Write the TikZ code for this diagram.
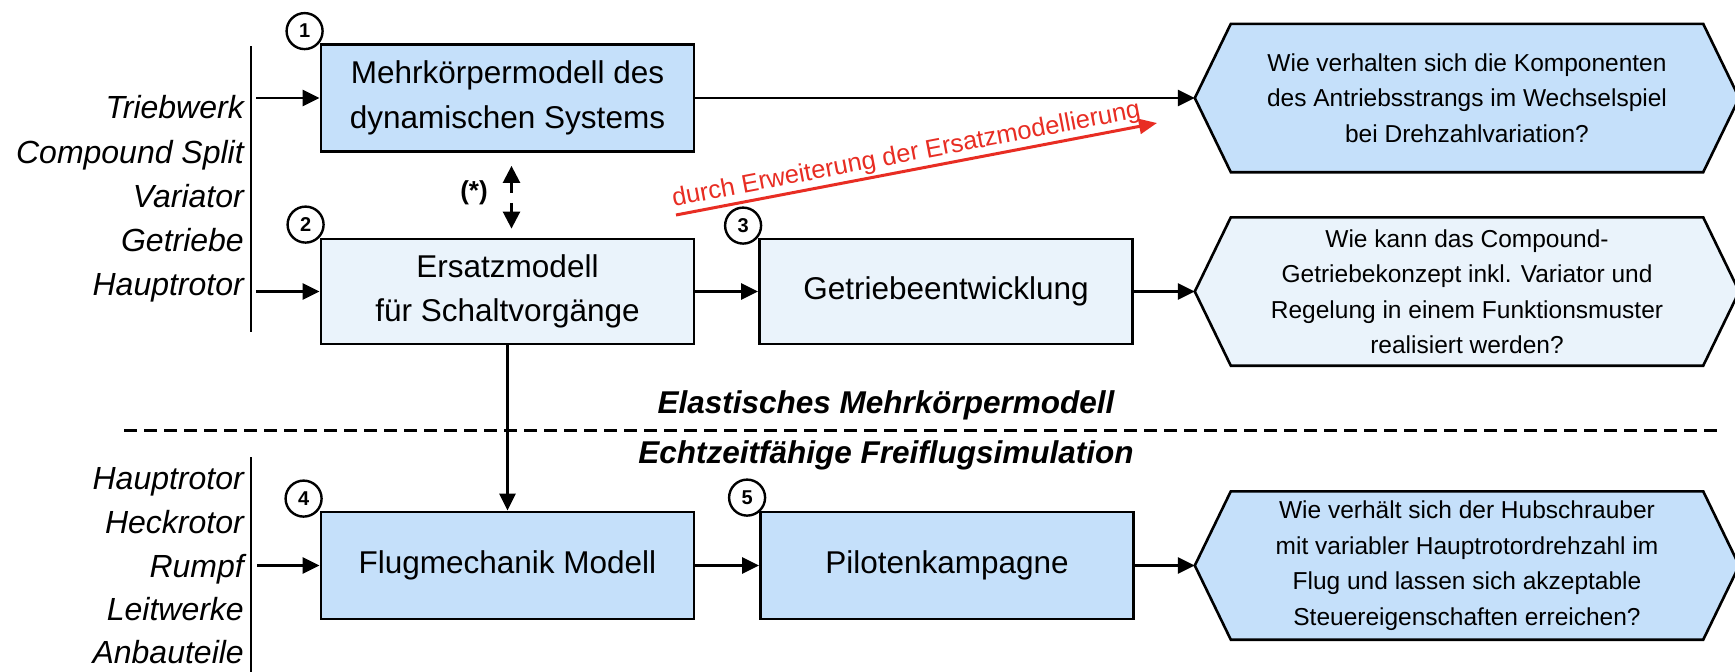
\documentclass[tikz,border=0pt]{standalone}
\usepackage{fontspec}
\setmainfont{Liberation Sans}
\usetikzlibrary{arrows.meta,calc}
\pgfdeclarelayer{background}
\pgfsetlayers{background,main}
\definecolor{bluedark}{RGB}{197,224,250}
\definecolor{bluelight}{RGB}{234,243,251}
\definecolor{redarr}{RGB}{232,45,35}
\begin{document}
\begin{tikzpicture}[x=1pt,y=-1pt,
  stepbox/.style={draw, line width=2.8pt, minimum width=373pt, minimum height=107pt,
    inner sep=0pt, align=center, font=\fontsize{31.5}{44.5}\selectfont},
  hexin/.style={minimum width=472pt, minimum height=148pt, inner sep=0pt, align=center,
    font=\fontsize{24.5}{35.5}\selectfont},
  hexshape/.style={line width=2.6pt, line join=miter, draw=black},
  num/.style={circle, draw, line width=2.4pt, fill=white, minimum size=36pt, inner sep=0pt,
    font=\bfseries\fontsize{20}{20}\selectfont},
  arr/.style={line width=2.6pt, -{Triangle[length=17pt,width=16pt]}},
  dbl/.style={line width=2.6pt, {Triangle[length=17pt,width=17pt]}-{Triangle[length=17pt,width=17pt]},
    dash pattern=on 10.5pt off 10pt},
  redarrow/.style={line width=3pt, draw=redarr, -{Triangle[length=18pt,width=15pt]}},
  lbl/.style={anchor=base east, inner sep=0pt, font=\itshape\fontsize{32}{32}\selectfont},
  sect/.style={anchor=base, inner sep=0pt, font=\bfseries\itshape\fontsize{31.5}{31.5}\selectfont},
  bar/.style={line width=2.4pt}
]
\useasboundingbox (0,0) rectangle (1735,672);
\begin{pgfonlayer}{background}
\fill[white] (0,0) rectangle (1735,672);
\end{pgfonlayer}

% boxes
\node[stepbox, fill=bluedark] (b1) at (507.5,98) {Mehrkörpermodell des\\dynamischen Systems};
\node[stepbox, fill=bluelight, minimum height=105pt] (b2) at (507.5,291.5) {Ersatzmodell\\für Schaltvorgänge};
\node[stepbox, fill=bluelight, minimum height=105pt] (b3) at (946,291.5) {Getriebeentwicklung};
\node[stepbox, fill=bluedark] (b4) at (507.5,565.5) {Flugmechanik Modell};
\node[stepbox, fill=bluedark] (b5) at (947,565.5) {Pilotenkampagne};

% number circles
\node[num] (n1) at ($(b1.north west)+(-15,-12)$) {1};
\node[num] (n2) at ($(b2.north west)+(-14,-13)$) {2};
\node[num] (n3) at ($(b3.north west)+(-15,-12)$) {3};
\node[num] (n4) at ($(b4.north west)+(-16,-12)$) {4};
\node[num] (n5) at ($(b5.north west)+(-12,-13)$) {5};

% hexagons
\node[hexin] (h1) at (1467,98) {Wie verhalten sich die Komponenten\\des Antriebsstrangs im Wechselspiel\\bei Drehzahlvariation?};
\node[hexin] (h2) at (1467,291.5) {Wie kann das Compound-\\Getriebekonzept inkl. Variator und\\Regelung in einem Funktionsmuster\\realisiert werden?};
\node[hexin] (h3) at (1467,565.5) {Wie verhält sich der Hubschrauber\\mit variabler Hauptrotordrehzahl im\\Flug und lassen sich akzeptable\\Steuereigenschaften erreichen?};
\coordinate (h1tip) at ($(h1.west)+(-36,0)$);
\coordinate (h2tip) at ($(h2.west)+(-36,0)$);
\coordinate (h3tip) at ($(h3.west)+(-36,0)$);
\begin{pgfonlayer}{background}
\filldraw[hexshape, fill=bluedark] (h1.north west) -- (h1.north east) -- ($(h1.east)+(36,0)$) -- (h1.south east) -- (h1.south west) -- (h1tip) -- cycle;
\filldraw[hexshape, fill=bluelight] (h2.north west) -- (h2.north east) -- ($(h2.east)+(36,0)$) -- (h2.south east) -- (h2.south west) -- (h2tip) -- cycle;
\filldraw[hexshape, fill=bluedark] (h3.north west) -- (h3.north east) -- ($(h3.east)+(36,0)$) -- (h3.south east) -- (h3.south west) -- (h3tip) -- cycle;
\end{pgfonlayer}

% left input labels (top)
\coordinate (barAtop) at (251,46);
\coordinate (barAbot) at (251,332);
\draw[bar] (barAtop) -- (barAbot);
\node[lbl] (t1) at (244,118) {Triebwerk};
\node[lbl] (t2) at (244,163) {Compound Split};
\node[lbl] (t3) at (244,207) {Variator};
\node[lbl] (t4) at (244,251) {Getriebe};
\node[lbl] (t5) at (244,295) {Hauptrotor};

% left input labels (bottom)
\coordinate (barBtop) at (251,457);
\coordinate (barBbot) at (251,672);
\draw[bar] (barBtop) -- (barBbot);
\node[lbl] (u1) at (244,489) {Hauptrotor};
\node[lbl] (u2) at (244,533) {Heckrotor};
\node[lbl] (u3) at (244,577) {Rumpf};
\node[lbl] (u4) at (244,620) {Leitwerke};
\node[lbl] (u5) at (244,663) {Anbauteile};

% input arrows
\coordinate (in1) at (256,98);
\coordinate (in2) at (256,291.5);
\coordinate (in4) at (257,565.5);
\draw[arr] (in1) -- (b1.west);
\draw[arr] (in2) -- (b2.west);
\draw[arr] (in4) -- (b4.west);

% flow arrows
\draw[arr] (b1.east) -- (h1tip);
\draw[arr] (b2.east) -- (b3.west);
\draw[arr] (b3.east) -- (h2tip);
\draw[arr] (b2.south) -- (b4.north);
\draw[arr] (b4.east) -- (b5.west);
\draw[arr] (b5.east) -- (h3tip);

% double arrow (*)
\coordinate (da1) at ($(b1.south)+(4,13)$);
\coordinate (da2) at ($(b2.north)+(4,-9)$);
\draw[dbl] (da1) -- (da2);
\node[font=\bfseries\fontsize{26}{26}\selectfont, inner sep=0pt] (star) at (474,193) {(*)};

% red arrow
\coordinate (r1) at (676,215);
\coordinate (r2) at (1157,123);
\draw[redarrow] (r1) -- node[sloped, above, pos=0.485, inner sep=2pt, text=redarr,
  font=\fontsize{25.5}{25.5}\selectfont] (rl) {durch Erweiterung der Ersatzmodellierung} (r2);

% separator
\coordinate (s1) at (124,430);
\coordinate (s2) at (1722,430);
\draw[line width=3pt, dash pattern=on 13pt off 7pt] (s1) -- (s2);
\node[sect] (e1) at (886,413) {Elastisches Mehrkörpermodell};
\node[sect] (e2) at (886,463) {Echtzeitfähige Freiflugsimulation};
\end{tikzpicture}
\end{document}
